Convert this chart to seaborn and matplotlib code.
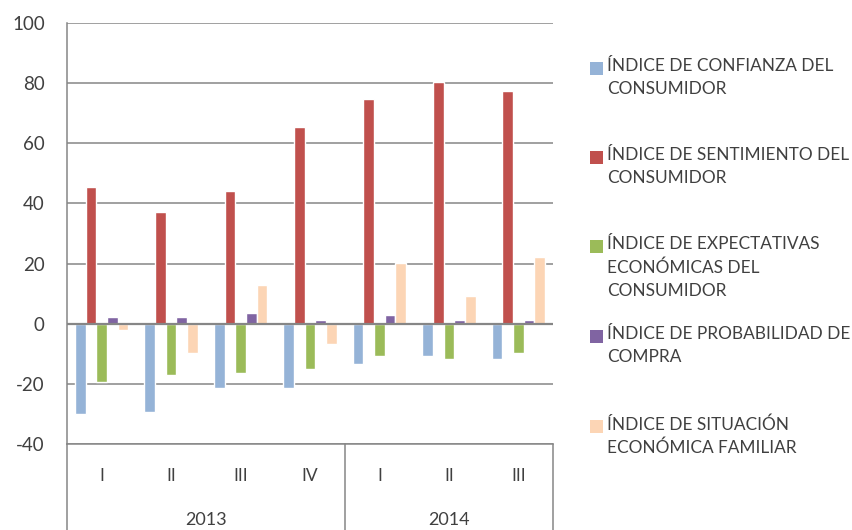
import pandas as pd
import matplotlib.pyplot as plt
import matplotlib.patches as mpatches
import seaborn as sns

# Quarterly survey indices (2013 Q1 .. 2014 Q3)
periods = ["2013-I", "2013-II", "2013-III", "2013-IV", "2014-I", "2014-II", "2014-III"]
quarter_labels = ["I", "II", "III", "IV", "I", "II", "III"]
years = ["2013", "2014"]
quarters_per_year = [4, 3]

series_names = [
    "ÍNDICE DE CONFIANZA DEL\nCONSUMIDOR",
    "ÍNDICE DE SENTIMIENTO DEL\nCONSUMIDOR",
    "ÍNDICE DE EXPECTATIVAS\nECONÓMICAS DEL\nCONSUMIDOR",
    "ÍNDICE DE PROBABILIDAD DE\nCOMPRA",
    "ÍNDICE DE SITUACIÓN\nECONÓMICA FAMILIAR",
]
confianza = [-29.9, -29.4, -21.5, -21.5, -13.5, -10.7, -11.9]
sentimiento = [45.3, 37.3, 44.2, 65.3, 74.7, 80.3, 77.4]
expectativas = [-19.3, -17.0, -16.5, -15.2, -10.7, -11.9, -9.7]
probabilidad = [2.2, 2.2, 3.5, 1.1, 2.9, 1.2, 1.2]
situacion = [-2.2, -9.6, 13.0, -6.8, 20.1, 9.2, 22.2]

colors = ["#95B3D7", "#C0504D", "#9BBB59", "#8064A2", "#FCD5B5"]
text_color = "#404040"
line_color = "#868686"

all_values = [confianza, sentimiento, expectativas, probabilidad, situacion]
rows = []
for name, vals in zip(series_names, all_values):
    for p, v in zip(periods, vals):
        rows.append({"periodo": p, "serie": name, "valor": v})
df = pd.DataFrame(rows)

sns.set_style("white")
plt.rcParams["font.family"] = ["Lato", "DejaVu Sans"]
plt.rcParams["axes.unicode_minus"] = False

fig = plt.figure(figsize=(8.53, 5.30), dpi=100)
ax = fig.add_axes([67 / 853, 86 / 530, 486 / 853, 421 / 530])

sns.barplot(data=df, x="periodo", y="valor", hue="serie", order=periods,
            hue_order=series_names, palette=colors, width=0.77, gap=0,
            saturation=1, ax=ax, legend=False)

ax.set_ylim(-40, 100)
ax.set_yticks(range(-40, 101, 20))
ax.set_xlim(-0.5, len(periods) - 0.5)
ax.set_xlabel("")
ax.set_ylabel("")
ax.yaxis.grid(True, color=line_color, linewidth=1.1)
ax.set_axisbelow(True)
ax.axhline(0, color=line_color, linewidth=1.6, zorder=3)

for side in ["top", "right"]:
    ax.spines[side].set_visible(False)
ax.spines["left"].set_color(line_color)
ax.spines["bottom"].set_color(line_color)
ax.spines["left"].set_linewidth(1.1)
ax.spines["bottom"].set_linewidth(1.1)

ax.tick_params(axis="y", length=0, pad=16, labelsize=13.5, labelcolor=text_color)
ax.set_xticks(range(len(periods)))
ax.set_xticklabels(quarter_labels)
ax.tick_params(axis="x", length=0, pad=17, labelsize=12.5, labelcolor=text_color)

# Category table under the axis
depth = -86 / 421
tf = ax.transAxes
ax.plot([0, 0], [0, depth], transform=tf, color=line_color, lw=1.1, clip_on=False)
start = 0
n = len(periods)
for yr, cnt in zip(years, quarters_per_year):
    end = start + cnt
    xe = end / n
    ax.plot([xe, xe], [0, depth], transform=tf, color=line_color, lw=1.1, clip_on=False)
    ax.text((start + end) / 2 / n, -76 / 421, yr, transform=tf, ha="center",
            va="center", fontsize=13, color=text_color)
    start = end

# Legend, laid out like the original
legend_rows = [68, 157, 246, 336, 426]
for name, col, yc in zip(series_names, colors, legend_rows):
    fig.patches.append(mpatches.Rectangle((590 / 853, (530 - yc - 6.5) / 530),
                                          13 / 853, 13 / 530, transform=fig.transFigure,
                                          facecolor=col, edgecolor="none"))
    fig.text(607 / 853, (530 - yc + 10) / 530, name, ha="left", va="top",
             fontsize=12.4, color=text_color, linespacing=1.55)

fig.savefig("out.png", dpi=100)
